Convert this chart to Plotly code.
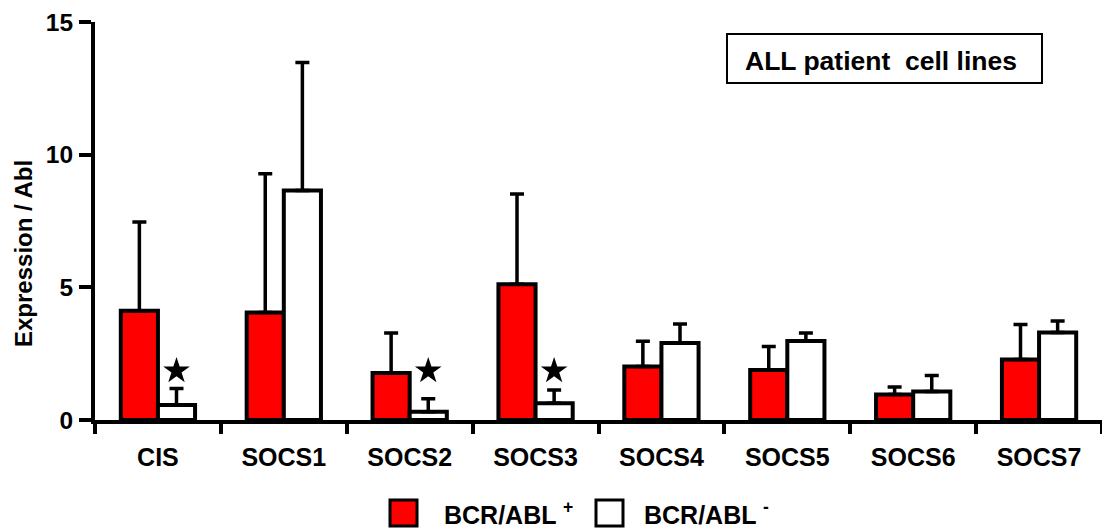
import plotly.graph_objects as go

# ---------------- data ----------------
categories = ["CIS", "SOCS1", "SOCS2", "SOCS3", "SOCS4", "SOCS5", "SOCS6", "SOCS7"]
pos_values = [4.12, 4.05, 1.77, 5.12, 2.02, 1.88, 0.96, 2.28]     # BCR/ABL +
pos_err = [3.34, 5.23, 1.51, 3.40, 0.95, 0.89, 0.28, 1.32]
neg_values = [0.57, 8.65, 0.31, 0.63, 2.90, 2.98, 1.07, 3.30]     # BCR/ABL -
neg_err = [0.62, 4.82, 0.49, 0.50, 0.72, 0.30, 0.61, 0.43]
star_flags = [True, False, True, True, False, False, False, False]
star_level = 1.85
y_ticks = [0, 5, 10, 15]
legend_labels = ["BCR/ABL <sup>+</sup>", "BCR/ABL <sup>-</sup>"]
box_title = "ALL patient\u00a0 cell lines"
y_title = "Expression / Abl"

# ---------------- layout constants ----------------
W, H = 1102, 528
ML, MR, MT, MB = 95, 0, 22, 108
PW, PH = W - ML - MR, H - MT - MB
FONT = "Liberation Sans, Arial, sans-serif"
BARGAP = 0.41


def px_x(p):
    return (p - ML) / PW


def px_y(p):
    return (H - MB - p) / PH


fig = go.Figure()
fig.add_trace(go.Bar(
    x=categories, y=pos_values, name="BCR/ABL +",
    marker=dict(color="#FF0000", line=dict(color="black", width=4)),
    error_y=dict(type="data", symmetric=False, array=pos_err,
                 arrayminus=[0] * len(pos_err), color="black",
                 thickness=3.5, width=7),
    showlegend=False,
))
fig.add_trace(go.Bar(
    x=categories, y=neg_values, name="BCR/ABL -",
    marker=dict(color="white", line=dict(color="black", width=4)),
    error_y=dict(type="data", symmetric=False, array=neg_err,
                 arrayminus=[0] * len(neg_err), color="black",
                 thickness=3.5, width=7),
    showlegend=False,
))

# significance stars above the BCR/ABL- bars
half_bar = (1 - BARGAP) / 4
star_x = [i + half_bar for i, f in enumerate(star_flags) if f]
star_y = [star_level for f in star_flags if f]
fig.add_trace(go.Scatter(
    x=star_x, y=star_y, mode="markers", xaxis="x2",
    marker=dict(symbol="star", size=20, color="black",
                line=dict(width=0)),
    showlegend=False, hoverinfo="skip",
))

fig.update_layout(
    width=W, height=H,
    margin=dict(l=ML, r=MR, t=MT, b=MB, pad=0),
    paper_bgcolor="white", plot_bgcolor="white",
    barmode="group", bargap=BARGAP, bargroupgap=0,
    showlegend=False,
    font=dict(family=FONT, color="black"),
    xaxis=dict(
        type="category", range=[-0.5, len(categories) - 0.5],
        tickson="boundaries", ticks="outside", ticklen=10, tickwidth=4,
        tickcolor="black", showline=True, linecolor="black", linewidth=4,
        showgrid=False, zeroline=False, ticklabelstandoff=12,
        tickfont=dict(family=FONT, size=25, color="black", weight="bold"),
    ),
    xaxis2=dict(
        overlaying="x", range=[-0.5, len(categories) - 0.5],
        visible=False, showgrid=False, zeroline=False,
    ),
    yaxis=dict(
        range=[0, 15], tickmode="array", tickvals=y_ticks,
        ticks="outside", ticklen=12, tickwidth=4, tickcolor="black",
        showline=True, linecolor="black", linewidth=4,
        showgrid=False, zeroline=False, ticklabelstandoff=1,
        tickfont=dict(family=FONT, size=24.5, color="black", weight="bold"),
    ),
)

annotations = []
shapes = []

# y-axis title
annotations.append(dict(
    text=y_title, xref="paper", yref="paper", x=px_x(23), y=px_y(254),
    xanchor="center", yanchor="middle", textangle=-90, showarrow=False,
    font=dict(family=FONT, size=24, color="black", weight="bold"),
))

# title box
shapes.append(dict(type="rect", xref="paper", yref="paper",
                   x0=px_x(727), x1=px_x(1042), y0=px_y(34), y1=px_y(83),
                   line=dict(color="black", width=2), fillcolor="white"))
annotations.append(dict(
    text=box_title, xref="paper", yref="paper", x=px_x(881), y=px_y(61),
    xanchor="center", yanchor="middle", showarrow=False,
    font=dict(family=FONT, size=26.5, color="black", weight="bold"),
))

# legend (manual)
legend_fill = ["#FF0000", "white"]
legend_sq_x = [390, 596]
legend_txt_x = [442, 642]
for fill, sx, tx, lab in zip(legend_fill, legend_sq_x, legend_txt_x, legend_labels):
    shapes.append(dict(type="rect", xref="paper", yref="paper",
                       x0=px_x(sx), x1=px_x(sx + 27), y0=px_y(500), y1=px_y(526),
                       line=dict(color="black", width=3), fillcolor=fill))
    annotations.append(dict(
        text=lab, xref="paper", yref="paper", x=px_x(tx), y=px_y(513),
        xanchor="left", yanchor="middle", showarrow=False,
        font=dict(family=FONT, size=25, color="black", weight="bold"),
    ))

fig.update_layout(annotations=annotations, shapes=shapes)
fig.write_html(
    "out.html",
    config={"displayModeBar": False},
    post_script="document.body.style.margin='0';document.body.style.padding='0';",
)
